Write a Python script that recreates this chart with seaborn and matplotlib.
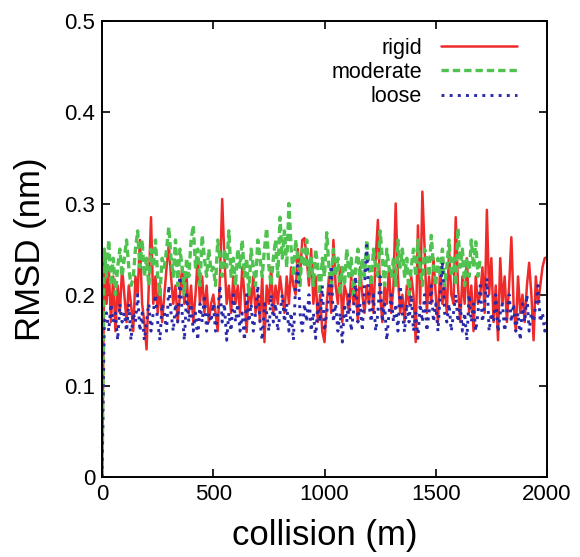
import numpy as np
import pandas as pd
import matplotlib
matplotlib.use("Agg")
import matplotlib.pyplot as plt
import seaborn as sns

step = 10  # collisions between samples

rigid = [0.0,
    0.24, 0.19, 0.23, 0.17, 0.22, 0.16, 0.21, 0.18, 0.23, 0.20,
    0.17, 0.21, 0.19, 0.16, 0.22, 0.20, 0.26, 0.19, 0.17, 0.14,
    0.21, 0.285, 0.19, 0.22, 0.18, 0.21, 0.17, 0.20, 0.23, 0.255,
    0.22, 0.19, 0.21, 0.17, 0.20, 0.23, 0.19, 0.22, 0.18, 0.21,
    0.17, 0.20, 0.24, 0.19, 0.22, 0.18, 0.21, 0.17, 0.19, 0.20,
    0.18, 0.16, 0.22, 0.305, 0.24, 0.19, 0.21, 0.18, 0.22, 0.19,
    0.21, 0.18, 0.23, 0.20, 0.159, 0.21, 0.19, 0.22, 0.18, 0.20,
    0.17, 0.22, 0.148, 0.21, 0.19, 0.23, 0.18, 0.21, 0.19, 0.22,
    0.20, 0.18, 0.22, 0.19, 0.23, 0.21, 0.20, 0.25, 0.22, 0.26,
    0.262, 0.24, 0.21, 0.25, 0.19, 0.22, 0.17, 0.20, 0.16, 0.148,
    0.19, 0.22, 0.18, 0.26, 0.21, 0.19, 0.23, 0.17, 0.21, 0.20,
    0.18, 0.22, 0.19, 0.21, 0.17, 0.23, 0.20, 0.18, 0.21, 0.19,
    0.22, 0.18, 0.24, 0.282, 0.20, 0.17, 0.21, 0.19, 0.23, 0.18,
    0.21, 0.30, 0.22, 0.18, 0.20, 0.17, 0.21, 0.19, 0.22, 0.20,
    0.148, 0.276, 0.19, 0.313, 0.25, 0.18, 0.22, 0.19, 0.24, 0.20,
    0.17, 0.23, 0.19, 0.21, 0.18, 0.25, 0.20, 0.19, 0.285, 0.21,
    0.17, 0.22, 0.19, 0.24, 0.18, 0.21, 0.16, 0.22, 0.19, 0.20,
    0.23, 0.18, 0.293, 0.20, 0.24, 0.17, 0.21, 0.15, 0.24, 0.19,
    0.22, 0.17, 0.21, 0.263, 0.19, 0.16, 0.22, 0.18, 0.20, 0.17,
    0.21, 0.235, 0.20, 0.15, 0.22, 0.19, 0.21, 0.23, 0.24, 0.241]

moderate = [0.0,
    0.25, 0.22, 0.26, 0.21, 0.24, 0.20, 0.23, 0.25, 0.22, 0.24,
    0.26, 0.23, 0.21, 0.218, 0.25, 0.27, 0.23, 0.26, 0.22, 0.24,
    0.21, 0.25, 0.23, 0.26, 0.22, 0.20, 0.24, 0.23, 0.25, 0.274,
    0.24, 0.22, 0.26, 0.21, 0.25, 0.23, 0.20, 0.24, 0.22, 0.26,
    0.276, 0.23, 0.25, 0.21, 0.265, 0.24, 0.22, 0.25, 0.225, 0.23,
    0.21, 0.26, 0.24, 0.22, 0.25, 0.23, 0.27, 0.22, 0.24, 0.21,
    0.25, 0.23, 0.26, 0.22, 0.24, 0.20, 0.25, 0.23, 0.21, 0.26,
    0.24, 0.22, 0.25, 0.273, 0.23, 0.21, 0.24, 0.26, 0.22, 0.285,
    0.24, 0.27, 0.23, 0.30, 0.25, 0.22, 0.26, 0.24, 0.21, 0.25,
    0.23, 0.26, 0.22, 0.24, 0.21, 0.25, 0.23, 0.20, 0.24, 0.22,
    0.268, 0.23, 0.21, 0.25, 0.22, 0.24, 0.20, 0.23, 0.21, 0.25,
    0.22, 0.24, 0.20, 0.23, 0.25, 0.21, 0.24, 0.22, 0.26, 0.23,
    0.21, 0.25, 0.23, 0.22, 0.27, 0.24, 0.21, 0.25, 0.23, 0.22,
    0.24, 0.21, 0.26, 0.23, 0.25, 0.22, 0.24, 0.20, 0.23, 0.25,
    0.22, 0.26, 0.23, 0.21, 0.25, 0.24, 0.22, 0.265, 0.23, 0.21,
    0.24, 0.22, 0.25, 0.21, 0.23, 0.26, 0.22, 0.24, 0.21, 0.273,
    0.23, 0.25, 0.21, 0.24, 0.22, 0.26, 0.23, 0.258, 0.22, 0.24]

loose = [0.0,
    0.17, 0.18, 0.16, 0.19, 0.17, 0.18, 0.15, 0.19, 0.17, 0.18,
    0.16, 0.19, 0.15, 0.18, 0.17, 0.20, 0.16, 0.18, 0.15, 0.17,
    0.19, 0.16, 0.18, 0.20, 0.17, 0.15, 0.19, 0.18, 0.16, 0.21,
    0.18, 0.16, 0.19, 0.17, 0.22, 0.18, 0.15, 0.20, 0.17, 0.19,
    0.16, 0.18, 0.15, 0.19, 0.17, 0.20, 0.16, 0.18, 0.17, 0.19,
    0.16, 0.18, 0.21, 0.17, 0.19, 0.15, 0.18, 0.16, 0.20, 0.17,
    0.19, 0.16, 0.18, 0.15, 0.20, 0.17, 0.19, 0.16, 0.18, 0.21,
    0.17, 0.15, 0.19, 0.18, 0.16, 0.20, 0.17, 0.19, 0.16, 0.18,
    0.20, 0.17, 0.19, 0.16, 0.18, 0.15, 0.21, 0.232, 0.18, 0.16,
    0.19, 0.17, 0.20, 0.16, 0.18, 0.152, 0.19, 0.17, 0.21, 0.16,
    0.18, 0.20, 0.232, 0.17, 0.19, 0.16, 0.18, 0.148, 0.19, 0.17,
    0.20, 0.16, 0.18, 0.22, 0.17, 0.19, 0.16, 0.21, 0.254, 0.19,
    0.17, 0.20, 0.16, 0.18, 0.22, 0.17, 0.19, 0.15, 0.18, 0.20,
    0.17, 0.19, 0.16, 0.21, 0.18, 0.159, 0.19, 0.17, 0.20, 0.16,
    0.18, 0.152, 0.19, 0.17, 0.20, 0.16, 0.18, 0.21, 0.17, 0.19,
    0.16, 0.20, 0.236, 0.18, 0.17, 0.19, 0.16, 0.18, 0.20, 0.17,
    0.19, 0.16, 0.18, 0.15, 0.20, 0.17, 0.19, 0.16, 0.18, 0.21,
    0.17, 0.19, 0.218, 0.16, 0.18, 0.17, 0.20, 0.159, 0.18, 0.19,
    0.16, 0.18, 0.20, 0.17, 0.19, 0.16, 0.18, 0.15, 0.19, 0.17,
    0.20, 0.16, 0.18, 0.17, 0.19, 0.21, 0.17, 0.18, 0.16, 0.17]

series_names = ["rigid", "moderate", "loose"]
x_ticks = [0, 500, 1000, 1500, 2000]
y_ticks = [0, 0.1, 0.2, 0.3, 0.4, 0.5]
y_tick_labels = ["0", "0.1", "0.2", "0.3", "0.4", "0.5"]

sns.set_theme(style="ticks")
plt.rcParams["font.family"] = ["Liberation Sans", "DejaVu Sans"]
plt.rcParams["text.color"] = "black"
plt.rcParams["axes.labelcolor"] = "black"

fig = plt.figure(figsize=(5.8, 5.57), dpi=100)
ax = fig.add_axes([0.176, 0.1436, 0.767, 0.8184])

styles = {
    "rigid": dict(color="#ee2a2a", linestyle="-", linewidth=1.8),
    "moderate": dict(color="#4fc24f", linestyle=(0, (2.2, 1.2)), linewidth=2.4),
    "loose": dict(color="#2a2aa8", linestyle=(0, (1, 1.8)), linewidth=2.1),
}
for name, vals in zip(series_names, [rigid, moderate, loose]):
    df = pd.DataFrame({"collision": np.arange(len(vals)) * step, "rmsd": vals})
    sns.lineplot(data=df, x="collision", y="rmsd", ax=ax, label=name,
                 estimator=None, sort=False, **styles[name])

ax.set_xlim(0, 2000)
ax.set_ylim(0, 0.5)
ax.set_xticks(x_ticks)
ax.set_yticks(y_ticks)
ax.set_yticklabels(y_tick_labels)
ax.tick_params(direction="in", length=6, width=1.2, top=True, right=True,
               labelsize=16, pad=5, colors="black")
for sp in ax.spines.values():
    sp.set_linewidth(1.4)
    sp.set_color("black")
ax.set_xlabel("collision (m)", fontsize=25, labelpad=10, color="black")
ax.set_ylabel("RMSD (nm)", fontsize=25, labelpad=12, color="black")

leg = ax.legend(loc="upper right", bbox_to_anchor=(0.932, 0.964), frameon=False,
                markerfirst=False, fontsize=15.5, handlelength=3.5,
                handletextpad=0.9, labelspacing=0.15, borderaxespad=0.0,
                borderpad=0.0)
for t in leg.get_texts():
    t.set_color("black")

fig.savefig("out.png", dpi=100)
